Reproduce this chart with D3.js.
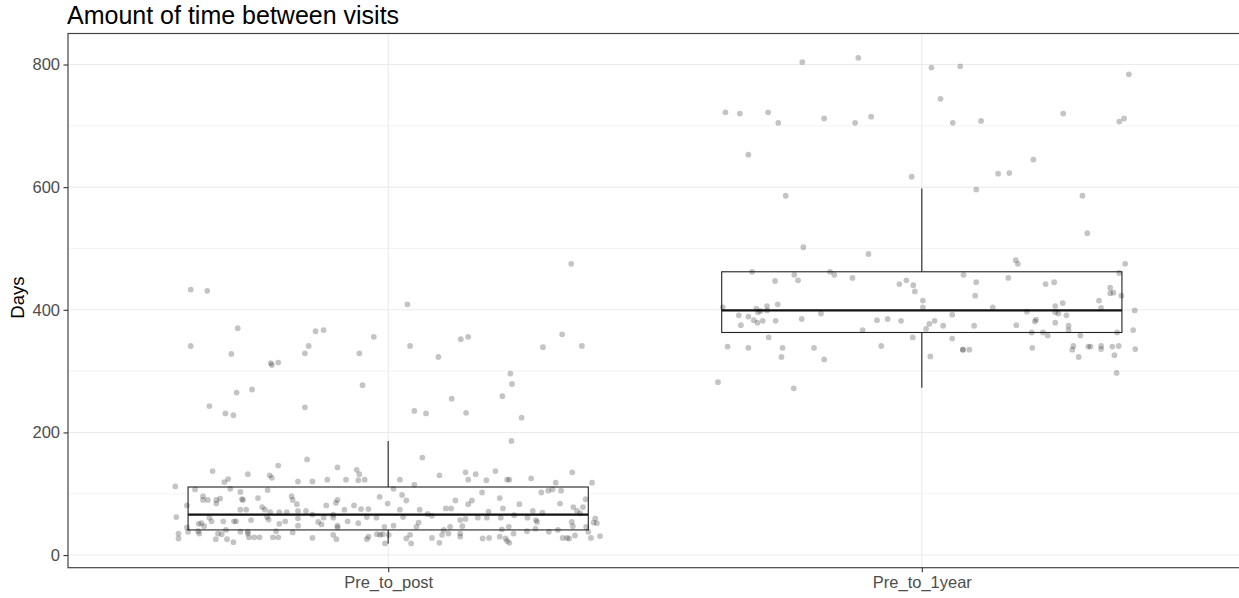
<!DOCTYPE html>
<html>
<head>
<meta charset="utf-8">
<script src="https://cdn.jsdelivr.net/npm/d3@7"></script>
<style>
  html, body { margin: 0; padding: 0; background: #fff; }
  svg { display: block; font-family: "Liberation Sans", Arial, sans-serif; }
</style>
</head>
<body>
<svg id="chart" width="1239" height="598"></svg>
<script>
// Visit-interval groups shown along the x axis
const categories = ["Pre_to_post", "Pre_to_1year"];
const yTicks = [0, 200, 400, 600, 800];
const yMinorTicks = [100, 300, 500, 700];

// Box summaries per group (days)
const lowerWhiskers = [19, 273];
const q1Values = [41, 363];
const medianValues = [66, 399];
const q3Values = [111, 462];
const upperWhiskers = [186, 598];

// Individual observations: [horizontal jitter in category units, days]
const preToPostPoints = [
  [-0.370,433],[-0.339,431],[-0.282,370],[-0.370,341],[-0.294,328],[-0.220,313],[-0.218,310],[-0.206,314],
  [-0.136,365],[-0.121,367],[-0.149,341],[-0.156,329],[-0.027,356],[-0.054,329],[-0.048,277],[-0.284,265],
  [-0.255,270],[-0.335,243],[-0.305,231],[-0.290,228],[-0.156,241],[0.343,475],[0.036,409],[0.041,341],
  [0.136,352],[0.150,356],[0.094,323],[0.290,339],[0.326,360],[0.363,341],[0.229,296],[0.232,279],
  [0.214,259],[0.119,255],[0.049,235],[0.071,231],[0.146,232],[0.250,224],
  [-0.399,112],[-0.329,137],[-0.307,119],[-0.300,124],[-0.263,132],[-0.296,108],[-0.362,107],[-0.377,81],
  [-0.397,62],[-0.393,35],[-0.393,27],[-0.377,45],[-0.375,38],[-0.347,96],[-0.347,90],[-0.338,90],
  [-0.322,90],[-0.322,84],[-0.315,92],[-0.277,103],[-0.274,91],[-0.272,90],[-0.277,74],[-0.266,74],
  [-0.244,93],[-0.226,106],[-0.222,130],[-0.218,126],[-0.206,146],[-0.152,156],[-0.169,120],[-0.142,120],
  [-0.114,123],[-0.095,143],[-0.079,123],[-0.059,139],[-0.054,132],[-0.056,122],[-0.044,123],[-0.181,96],
  [-0.179,90],[-0.171,83],[-0.116,81],[-0.098,85],[-0.095,90],[-0.082,74],[-0.064,81],[-0.051,75],
  [-0.037,75],[-0.016,95],[-0.001,84],[-0.236,78],[-0.231,74],[-0.221,70],[-0.204,70],[-0.190,70],
  [-0.169,72],[-0.154,72],[-0.142,66],[-0.121,61],[-0.103,61],[-0.103,66],[-0.227,62],[-0.224,58],
  [-0.169,60],[-0.335,61],[-0.331,55],[-0.309,55],[-0.289,55],[-0.285,55],[-0.257,57],[-0.193,55],
  [-0.204,51],[-0.169,48],[-0.131,54],[-0.125,50],[-0.076,55],[-0.056,52],[-0.040,62],[-0.022,61],
  [-0.355,51],[-0.350,52],[-0.345,47],[-0.356,39],[-0.354,35],[-0.319,35],[-0.312,34],[-0.304,41],
  [-0.323,26],[-0.302,26],[-0.290,21],[-0.277,38],[-0.263,38],[-0.263,35],[-0.261,29],[-0.251,29],
  [-0.241,29],[-0.216,29],[-0.206,29],[-0.210,39],[-0.179,37],[-0.142,28],[-0.103,33],[-0.097,26],
  [-0.095,45],[-0.095,48],[-0.037,30],[-0.040,26],[-0.021,34],[-0.015,33],[-0.010,34],[-0.006,19],
  [0.001,33],
  [0.231,186],[0.064,159],[0.096,130],[0.145,135],[0.164,132],[0.201,137],[0.150,123],[0.184,122],
  [0.223,123],[0.227,123],[0.268,125],[0.345,135],[0.382,118],[0.314,118],[0.022,123],[0.049,115],
  [0.010,108],[0.026,98],[0.034,89],[0.022,74],[0.028,62],[0.059,74],[0.074,67],[0.082,64],
  [0.108,76],[0.118,76],[0.126,89],[0.150,83],[0.157,89],[0.176,102],[0.209,93],[0.215,76],
  [0.246,83],[0.287,102],[0.300,105],[0.308,107],[0.324,105],[0.322,84],[0.271,72],[0.289,69],
  [0.347,78],[0.354,72],[0.365,78],[0.370,91],[0.360,68],[0.188,71],[0.168,61],[0.185,61],
  [0.211,61],[0.236,65],[0.261,61],[0.277,57],[0.279,54],[0.135,57],[0.145,59],[0.139,47],
  [0.116,46],[0.057,53],[0.053,46],[0.010,48],[-0.007,46],[0.104,41],[0.101,33],[0.113,35],
  [0.135,35],[0.135,30],[0.082,28],[0.041,33],[0.034,27],[0.043,19],[0.096,20],[0.177,27],
  [0.189,28],[0.209,30],[0.213,42],[0.220,27],[0.223,23],[0.227,20],[0.226,46],[0.235,35],
  [0.260,39],[0.276,43],[0.301,38],[0.318,41],[0.327,28],[0.335,28],[0.339,27],[0.350,32],
  [0.346,47],[0.344,54],[0.371,46],[0.375,38],[0.380,28],[0.388,60],[0.385,53],[0.391,52],
  [0.397,31]
];

const preTo1yearPoints = [
  [-0.224,804],[-0.119,811],[-0.368,722],[-0.341,720],[-0.288,722],[-0.269,705],[-0.183,712],[-0.125,705],
  [-0.095,715],[-0.325,653],[-0.019,617],[-0.255,586],
  [0.018,795],[0.072,797],[0.035,744],[0.058,705],[0.111,708],[0.265,720],[0.370,707],[0.379,712],
  [0.388,784],[0.209,645],[0.143,622],[0.164,623],[0.102,596],[0.301,586],
  [-0.222,502],[-0.100,491],[-0.318,462],[-0.239,457],[-0.232,448],[-0.275,447],[-0.172,462],[-0.164,457],
  [-0.130,452],[-0.042,442],[-0.029,448],[-0.016,440],[-0.013,430],[-0.373,404],[-0.310,402],[-0.307,396],
  [-0.302,398],[-0.290,406],[-0.290,399],[-0.270,409],[-0.343,391],[-0.325,389],[-0.315,383],[-0.308,379],
  [-0.298,382],[-0.339,375],[-0.274,382],[-0.225,385],[-0.189,394],[-0.084,383],[-0.064,385],[-0.039,382],
  [-0.111,367],[-0.287,355],[-0.364,340],[-0.325,338],[-0.261,338],[-0.202,338],[-0.263,323],[-0.183,319],
  [-0.076,341],[-0.017,355],[-0.382,282],[-0.240,272],
  [0.310,525],[0.176,481],[0.180,475],[0.381,475],[0.370,460],[0.078,457],[0.102,445],[0.162,452],
  [0.232,442],[0.248,445],[0.353,436],[0.353,427],[0.359,428],[0.374,423],[0.100,423],[0.002,415],
  [0.002,404],[0.133,404],[0.250,406],[0.264,411],[0.332,415],[0.336,403],[0.197,397],[0.250,396],
  [0.256,394],[0.271,391],[0.399,399],[0.057,392],[0.024,382],[0.014,377],[0.008,369],[0.040,374],
  [0.098,374],[0.177,375],[0.212,381],[0.214,384],[0.250,379],[0.275,374],[0.275,367],[0.206,363],
  [0.227,363],[0.236,358],[0.297,358],[0.366,363],[0.396,367],[0.057,353],[0.077,335],[0.077,335],
  [0.089,335],[0.016,324],[0.207,338],[0.284,341],[0.282,335],[0.294,323],[0.312,340],[0.316,340],
  [0.336,341],[0.336,336],[0.357,340],[0.369,341],[0.361,326],[0.400,336],[0.365,297]
];

const groupPoints = [preToPostPoints, preTo1yearPoints];

const svg = d3.select("#chart");
const panel = { left: 68, right: 1242, top: 33.5, bottom: 567.7 };

// Continuous y range expanded by 5% on each side
const allDays = groupPoints.flat().map(d => d[1]).concat(lowerWhiskers, upperWhiskers);
const yLo = d3.min(allDays), yHi = d3.max(allDays);
const pad = (yHi - yLo) * 0.05;
const y = d3.scaleLinear().domain([yLo - pad, yHi + pad]).range([panel.bottom, panel.top]);

// Discrete x positions 1..n with 0.6 units of padding on each side
const x = d3.scaleLinear().domain([0.4, categories.length + 0.6]).range([panel.left, panel.right]);
const catPos = i => x(i + 1);
const unit = x(1) - x(0);

// Panel background and grid
svg.append("rect").attr("x", panel.left).attr("y", panel.top)
  .attr("width", panel.right - panel.left).attr("height", panel.bottom - panel.top).attr("fill", "#fff");

const grid = svg.append("g");
grid.selectAll(".minor").data(yMinorTicks).join("line")
  .attr("x1", panel.left).attr("x2", panel.right)
  .attr("y1", d => y(d)).attr("y2", d => y(d))
  .attr("stroke", "#ebebeb").attr("stroke-width", 0.6);
grid.selectAll(".major").data(yTicks).join("line")
  .attr("x1", panel.left).attr("x2", panel.right)
  .attr("y1", d => y(d)).attr("y2", d => y(d))
  .attr("stroke", "#ebebeb").attr("stroke-width", 1.1);
grid.selectAll(".vmajor").data(categories).join("line")
  .attr("x1", (d, i) => catPos(i)).attr("x2", (d, i) => catPos(i))
  .attr("y1", panel.top).attr("y2", panel.bottom)
  .attr("stroke", "#ebebeb").attr("stroke-width", 1.1);

// Box plots
const boxHalf = 0.375 * unit;
const boxes = svg.append("g").selectAll("g").data(categories).join("g");
boxes.append("line")
  .attr("x1", (d, i) => catPos(i)).attr("x2", (d, i) => catPos(i))
  .attr("y1", (d, i) => y(upperWhiskers[i])).attr("y2", (d, i) => y(q3Values[i]))
  .attr("stroke", "#222").attr("stroke-width", 1.1);
boxes.append("line")
  .attr("x1", (d, i) => catPos(i)).attr("x2", (d, i) => catPos(i))
  .attr("y1", (d, i) => y(q1Values[i])).attr("y2", (d, i) => y(lowerWhiskers[i]))
  .attr("stroke", "#222").attr("stroke-width", 1.1);
boxes.append("rect")
  .attr("x", (d, i) => catPos(i) - boxHalf).attr("width", 2 * boxHalf)
  .attr("y", (d, i) => y(q3Values[i])).attr("height", (d, i) => y(q1Values[i]) - y(q3Values[i]))
  .attr("fill", "#fff").attr("stroke", "#222").attr("stroke-width", 1.1);
boxes.append("line")
  .attr("x1", (d, i) => catPos(i) - boxHalf).attr("x2", (d, i) => catPos(i) + boxHalf)
  .attr("y1", (d, i) => y(medianValues[i])).attr("y2", (d, i) => y(medianValues[i]))
  .attr("stroke", "#111").attr("stroke-width", 2.2);

// Jittered observations
const pts = svg.append("g");
groupPoints.forEach((points, gi) => {
  pts.selectAll(null).data(points).join("circle")
    .attr("cx", d => x(gi + 1 + d[0]))
    .attr("cy", d => y(d[1]))
    .attr("r", 2.9)
    .attr("fill", "#000")
    .attr("fill-opacity", 0.23);
});

// Panel border
svg.append("rect").attr("x", panel.left).attr("y", panel.top)
  .attr("width", panel.right - panel.left).attr("height", panel.bottom - panel.top)
  .attr("fill", "none").attr("stroke", "#444").attr("stroke-width", 1.2);

// Y axis
const yAxis = svg.append("g").attr("transform", `translate(${panel.left},0)`)
  .call(d3.axisLeft(y).tickValues(yTicks).tickSize(4.5).tickPadding(3.5).tickFormat(d3.format("d")));
yAxis.select(".domain").remove();
yAxis.selectAll(".tick line").attr("stroke", "#333").attr("stroke-width", 1.1);
yAxis.selectAll(".tick text").attr("fill", "#4d4d4d").style("font-size", "16.5px")
  .style("font-family", "'Liberation Sans', Arial, sans-serif");

// X axis
const xAxis = svg.append("g").attr("transform", `translate(0,${panel.bottom})`)
  .call(d3.axisBottom(x).tickValues(categories.map((c, i) => i + 1)).tickSize(4.5).tickPadding(4)
    .tickFormat((d, i) => categories[i]));
xAxis.select(".domain").remove();
xAxis.selectAll(".tick line").attr("stroke", "#333").attr("stroke-width", 1.1);
xAxis.selectAll(".tick text").attr("fill", "#4d4d4d").style("font-size", "16.5px")
  .style("font-family", "'Liberation Sans', Arial, sans-serif");

// Axis title and chart title
svg.append("text")
  .attr("transform", `translate(24,${(panel.top + panel.bottom) / 2 - 3}) rotate(-90)`)
  .attr("text-anchor", "middle")
  .style("font-size", "18.5px").attr("fill", "#000")
  .text("Days");

svg.append("text")
  .attr("x", 67).attr("y", 24)
  .style("font-size", "25px").attr("fill", "#000")
  .text("Amount of time between visits");
</script>
</body>
</html>
